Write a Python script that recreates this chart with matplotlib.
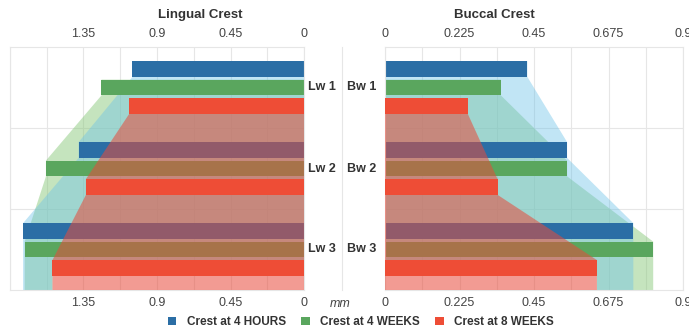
import matplotlib
matplotlib.use("Agg")
import matplotlib.pyplot as plt
from matplotlib.patches import Polygon, Patch
from matplotlib.lines import Line2D
from matplotlib.transforms import blended_transform_factory
import numpy as np

plt.rcParams['font.family'] = ['Liberation Sans', 'DejaVu Sans']

# ---- data (mm) ----
series_names = ["Crest at 4 HOURS", "Crest at 4 WEEKS", "Crest at 8 WEEKS"]
lingual_sites = ["Lw 1", "Lw 2", "Lw 3"]
buccal_sites = ["Bw 1", "Bw 2", "Bw 3"]

lingual_4h = [1.05, 1.38, 1.72]
lingual_4w = [1.24, 1.58, 1.71]
lingual_8w = [1.07, 1.335, 1.54]

buccal_4h = [0.43, 0.55, 0.75]
buccal_4w = [0.35, 0.55, 0.81]
buccal_8w = [0.25, 0.34, 0.64]

lingual_ticks = [1.35, 0.9, 0.45, 0]
buccal_ticks = [0, 0.225, 0.45, 0.675, 0.9]

# ---- styling ----
bar_colors = ["#2b6ea5", "#5aa65e", "#ee4d36"]
fill_colors = ["#6cc2e8", "#86c878", "#e84a3a"]
fill_alphas = [0.42, 0.48, 0.55]
fill_z = [1.2, 1.1, 3]          # the 4-hour area sits above the 4-week one
text_color = "#333333"
tick_color = "#444444"
grid_color = "#e6e6e6"

PITCH = 0.228      # distance between bar centres inside a group
BAR_H = 0.195      # bar thickness (category units)


def bar_span(i, k):
    c = k + 0.5 + (i - 1) * PITCH
    return c - BAR_H / 2, c + BAR_H / 2


def area_outline(values, i, n, floor_value=None, floor_top=None):
    """Stepped outline joining the bar ends of series i, closed against x=0."""
    top0, _ = bar_span(i, 0)
    pts = [(0, top0)]
    for k, v in enumerate(values):
        top, bot = bar_span(i, k)
        pts.append((v, top))
        if k < len(values) - 1:
            pts.append((v, bot))
    pts.append((values[-1], n))
    if floor_value is None:
        pts.append((0, n))
    else:
        pts.append((floor_value, n))
        pts.append((floor_value, floor_top))
        pts.append((0, floor_top))
    return pts


def draw_panel(ax, series, xmax, step, label_ticks):
    n = len(series[0])
    last = series[-1]
    _, last_bot = bar_span(len(series) - 1, n - 1)
    # translucent areas for the two earlier time points
    for i in range(len(series) - 1):
        poly = Polygon(area_outline(series[i], i, n, last[-1], last_bot),
                       closed=True, facecolor=fill_colors[i],
                       alpha=fill_alphas[i], edgecolor='none', zorder=fill_z[i])
        ax.add_patch(poly)
    # bars of the earlier time points
    for i in range(len(series) - 1):
        centers = [k + 0.5 + (i - 1) * PITCH for k in range(n)]
        ax.barh(centers, series[i], height=BAR_H, color=bar_colors[i],
                edgecolor='none', zorder=2)
    # latest time point: area drawn over the bars, then its own bars
    i = len(series) - 1
    ax.add_patch(Polygon(area_outline(last, i, n), closed=True,
                         facecolor=fill_colors[i], alpha=fill_alphas[i],
                         edgecolor='none', zorder=fill_z[i]))
    centers = [k + 0.5 + (i - 1) * PITCH for k in range(n)]
    ax.barh(centers, last, height=BAR_H, color=bar_colors[i],
            edgecolor='none', zorder=4)

    ax.set_ylim(n, 0)
    ax.set_xlim(0, xmax)
    grid = np.round(np.arange(0, xmax + step / 2, step), 6)
    ax.set_xticks(grid)
    ax.set_xticklabels([("%g" % g) if any(abs(g - t) < 1e-9 for t in label_ticks) else ""
                        for g in grid])
    ax.set_yticks(range(1, n))
    ax.set_yticklabels([])
    ax.grid(True, color=grid_color, linewidth=0.8, zorder=0)
    ax.set_axisbelow(True)
    ax.tick_params(axis='x', length=0, labeltop=True, labelbottom=True,
                   labelsize=9, colors=tick_color, pad=5)
    ax.tick_params(axis='y', length=0)
    for s in ax.spines.values():
        s.set_color(grid_color)
        s.set_linewidth(0.8)


fig = plt.figure(figsize=(6.89, 3.34), dpi=100)
H = 334.0
W = 689.0
ax_l = fig.add_axes([10 / W, 1 - 290 / H, 294 / W, 243 / H])
ax_r = fig.add_axes([385 / W, 1 - 290 / H, 298 / W, 243 / H])

draw_panel(ax_l, [lingual_4h, lingual_4w, lingual_8w], 1.8, 0.225, lingual_ticks)
ax_l.invert_xaxis()
draw_panel(ax_r, [buccal_4h, buccal_4w, buccal_8w], 0.9, 0.1125, buccal_ticks)

# site labels between the panels
tl = blended_transform_factory(ax_l.transAxes, ax_l.transData)
for k, lab in enumerate(lingual_sites):
    ax_l.text(1.012, k + 0.5, lab, transform=tl, ha='left', va='center',
              fontsize=9, fontweight='bold', color=text_color)
tr = blended_transform_factory(ax_r.transAxes, ax_r.transData)
for k, lab in enumerate(buccal_sites):
    ax_r.text(-0.028, k + 0.5, lab, transform=tr, ha='right', va='center',
              fontsize=9, fontweight='bold', color=text_color)

fig.text(200 / W, 1 - 15 / H, "Lingual Crest", ha='center', va='center',
         fontsize=9.5, fontweight='bold', color=text_color)
fig.text(494 / W, 1 - 15 / H, "Buccal Crest", ha='center', va='center',
         fontsize=9.5, fontweight='bold', color=text_color)
fig.text(340 / W, 1 - 304 / H, "mm", ha='center', va='center',
         fontsize=9, style='italic', color=tick_color)

fig.add_artist(Line2D([342 / W, 342 / W], [1 - 290 / H, 1 - 47 / H],
                      transform=fig.transFigure, color=grid_color, linewidth=0.8))

handles = [Patch(facecolor=c, edgecolor='none') for c in bar_colors]
leg = fig.legend(handles, series_names, loc='center', ncol=3,
                 bbox_to_anchor=(361 / W, 1 - 322 / H), frameon=False,
                 handlelength=0.7, handleheight=0.7, handletextpad=0.9,
                 columnspacing=1.3, prop={'weight': 'bold', 'size': 8.5})
for t in leg.get_texts():
    t.set_color(text_color)

fig.savefig("out.png", dpi=100)
